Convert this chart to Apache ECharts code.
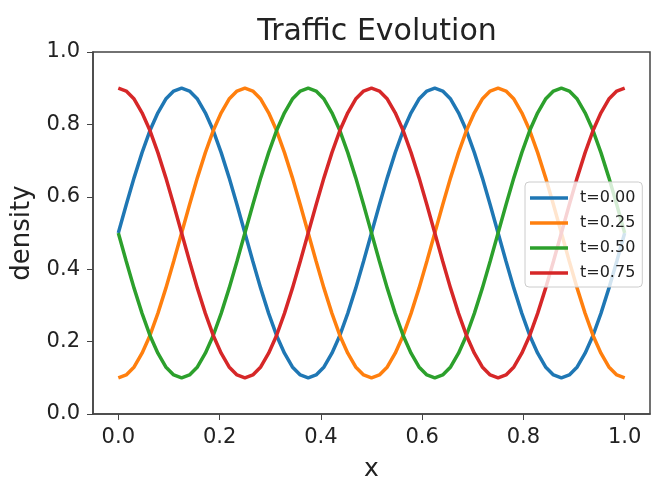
<!DOCTYPE html>
<html>
<head>
<meta charset="utf-8">
<script src="https://cdn.jsdelivr.net/npm/echarts@6/dist/echarts.min.js"></script>
<style>html,body{margin:0;padding:0;background:#fff}#c{width:652px;height:477px}</style>
</head>
<body>
<div id="c"></div>
<script>
const xValues = [0,0.015625,0.03125,0.046875,0.0625,0.078125,0.09375,0.109375,0.125,0.140625,0.15625,0.171875,0.1875,0.203125,0.21875,0.234375,
  0.25,0.265625,0.28125,0.296875,0.3125,0.328125,0.34375,0.359375,0.375,0.390625,0.40625,0.421875,0.4375,0.453125,0.46875,0.484375,
  0.5,0.515625,0.53125,0.546875,0.5625,0.578125,0.59375,0.609375,0.625,0.640625,0.65625,0.671875,0.6875,0.703125,0.71875,0.734375,
  0.75,0.765625,0.78125,0.796875,0.8125,0.828125,0.84375,0.859375,0.875,0.890625,0.90625,0.921875,0.9375,0.953125,0.96875,0.984375,1];
const seriesNames = ['t=0.00','t=0.25','t=0.50','t=0.75'];
const densT000 = [0.5,0.578,0.653,0.722,0.783,0.832,0.870,0.892,0.9,0.892,0.870,0.832,0.783,0.722,0.653,0.578,
  0.5,0.422,0.347,0.278,0.217,0.168,0.130,0.108,0.1,0.108,0.130,0.168,0.217,0.278,0.347,0.422,
  0.5,0.578,0.653,0.722,0.783,0.832,0.870,0.892,0.9,0.892,0.870,0.832,0.783,0.722,0.653,0.578,
  0.5,0.422,0.347,0.278,0.217,0.168,0.130,0.108,0.1,0.108,0.130,0.168,0.217,0.278,0.347,0.422,0.5];
const densT025 = [0.1,0.108,0.130,0.168,0.217,0.278,0.347,0.422,0.5,0.578,0.653,0.722,0.783,0.832,0.870,0.892,
  0.9,0.892,0.870,0.832,0.783,0.722,0.653,0.578,0.5,0.422,0.347,0.278,0.217,0.168,0.130,0.108,
  0.1,0.108,0.130,0.168,0.217,0.278,0.347,0.422,0.5,0.578,0.653,0.722,0.783,0.832,0.870,0.892,
  0.9,0.892,0.870,0.832,0.783,0.722,0.653,0.578,0.5,0.422,0.347,0.278,0.217,0.168,0.130,0.108,0.1];
const densT050 = [0.5,0.422,0.347,0.278,0.217,0.168,0.130,0.108,0.1,0.108,0.130,0.168,0.217,0.278,0.347,0.422,
  0.5,0.578,0.653,0.722,0.783,0.832,0.870,0.892,0.9,0.892,0.870,0.832,0.783,0.722,0.653,0.578,
  0.5,0.422,0.347,0.278,0.217,0.168,0.130,0.108,0.1,0.108,0.130,0.168,0.217,0.278,0.347,0.422,
  0.5,0.578,0.653,0.722,0.783,0.832,0.870,0.892,0.9,0.892,0.870,0.832,0.783,0.722,0.653,0.578,0.5];
const densT075 = [0.9,0.892,0.870,0.832,0.783,0.722,0.653,0.578,0.5,0.422,0.347,0.278,0.217,0.168,0.130,0.108,
  0.1,0.108,0.130,0.168,0.217,0.278,0.347,0.422,0.5,0.578,0.653,0.722,0.783,0.832,0.870,0.892,
  0.9,0.892,0.870,0.832,0.783,0.722,0.653,0.578,0.5,0.422,0.347,0.278,0.217,0.168,0.130,0.108,
  0.1,0.108,0.130,0.168,0.217,0.278,0.347,0.422,0.5,0.578,0.653,0.722,0.783,0.832,0.870,0.892,0.9];
const xTicks = [0,0.2,0.4,0.6,0.8,1.0];
const colors = ['#1f77b4','#ff7f0e','#2ca02c','#d62728'];

const allY = [densT000, densT025, densT050, densT075];
const font = 'DejaVu Sans';
const chart = echarts.init(document.getElementById('c'), null, {renderer:'canvas'});
chart.setOption({
  animation:false,
  backgroundColor:'#fff',
  title:{text:'Traffic Evolution', left:372, top:12, textAlign:'center',
    textStyle:{fontFamily:font, fontSize:30, fontWeight:'normal', color:'#222'}},
  grid:{left:93, right:2, top:52, bottom:63, outerBoundsMode:'none', containLabel:false, show:true, borderColor:'#444', borderWidth:1.5, backgroundColor:'transparent'},
  legend:{orient:'vertical', left:525, top:182, padding:[8,7,6,5],
    backgroundColor:'rgba(255,255,255,0.8)', borderColor:'#ccc', borderWidth:1, borderRadius:4,
    icon:'rect', itemWidth:38, itemHeight:3.5, itemGap:9,
    textStyle:{fontFamily:font, fontSize:16, color:'#222', lineHeight:16, padding:[0,0,0,7]},
    data:seriesNames},
  xAxis:{type:'value', min:-0.05, max:1.05, name:'x', nameLocation:'middle', nameGap:43,
    nameTextStyle:{fontFamily:font, fontSize:25, color:'#222'},
    axisLine:{show:true, onZero:false, lineStyle:{color:'#444', width:1.5}},
    axisTick:{show:true, length:6, customValues:xTicks, lineStyle:{color:'#444'}},
    axisLabel:{customValues:xTicks, margin:13, fontFamily:font, fontSize:21, color:'#222',
      formatter:v=>v.toFixed(1)},
    splitLine:{show:false}},
  yAxis:{type:'value', min:0, max:1, interval:0.2, name:'density', nameLocation:'middle', nameGap:56,
    nameTextStyle:{fontFamily:font, fontSize:26, color:'#222'},
    axisLine:{show:true, onZero:false, lineStyle:{color:'#444', width:1.5}},
    axisTick:{show:true, length:6, lineStyle:{color:'#444'}},
    axisLabel:{margin:13, fontFamily:font, fontSize:21, color:'#222', formatter:v=>v.toFixed(1)},
    splitLine:{show:false}},
  series: seriesNames.map((n,i)=>({
    name:n, type:'line', smooth:false, showSymbol:false, symbol:'none',
    color:colors[i], lineStyle:{width:3.5, color:colors[i]},
    data:xValues.map((x,j)=>[x, allY[i][j]])
  }))
});
</script>
</body>
</html>
